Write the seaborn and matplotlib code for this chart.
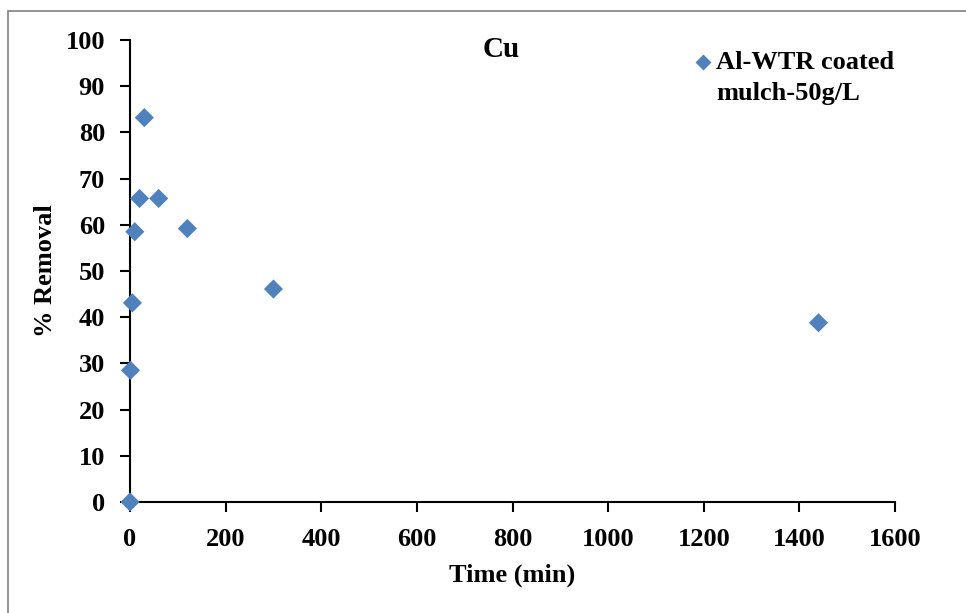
import matplotlib
matplotlib.use("Agg")
import matplotlib.pyplot as plt
import seaborn as sns
import pandas as pd
import numpy as np
from matplotlib.patches import Rectangle

time_min = [0, 1, 5, 10, 20, 30, 60, 120, 300, 1440]
removal_pct = [0, 28.5, 43.1, 58.5, 65.7, 83.2, 65.7, 59.2, 46.1, 38.8]
series_name = "Al-WTR coated\nmulch-50g/L"
x_ticks = [0, 200, 400, 600, 800, 1000, 1200, 1400, 1600]
y_ticks = [0, 10, 20, 30, 40, 50, 60, 70, 80, 90, 100]

sns.set_style("white")
plt.rcParams['font.family'] = ['Liberation Serif', 'DejaVu Serif']
plt.rcParams['font.weight'] = 'bold'
plt.rcParams['text.color'] = 'black'
plt.rcParams['axes.labelcolor'] = 'black'
plt.rcParams['xtick.color'] = 'black'
plt.rcParams['ytick.color'] = 'black'

FS = 19

df = pd.DataFrame({"Time": time_min, "Removal": removal_pct, "Series": series_name})

fig = plt.figure(figsize=(9.66, 6.13), dpi=100)
ax = fig.add_axes([130/966, 1-502/613, (895-130)/966, (502-40)/613])

sns.scatterplot(data=df, x="Time", y="Removal", hue="Series", palette=["#4F81BD"],
                marker="D", s=95, edgecolor="none", ax=ax, clip_on=False, zorder=5)

ax.set_xlim(0, 1600)
ax.set_ylim(0, 100)
ax.set_xticks(x_ticks)
ax.set_yticks(y_ticks)
ax.set_xticklabels([str(t) for t in x_ticks], fontsize=FS, fontweight='bold')
ax.set_yticklabels([str(t) for t in y_ticks], fontsize=FS, fontweight='bold')
ax.tick_params(axis='both', direction='out', length=7, width=1.5, color='black',
               labelcolor='black', left=True, bottom=True)
ax.tick_params(axis='x', pad=12)
ax.tick_params(axis='y', pad=11)
for s in ['top', 'right']:
    ax.spines[s].set_visible(False)
for s in ['left', 'bottom']:
    ax.spines[s].set_color('black')
    ax.spines[s].set_linewidth(1.5)

ax.set_xlabel("Time (min)", fontsize=FS, fontweight='bold', labelpad=9, color='black')
ax.set_ylabel("% Removal", fontsize=FS, fontweight='bold', labelpad=6, color='black')
ax.text(0.485, 1.008, "Cu", transform=ax.transAxes, ha='center', va='top',
        fontsize=21, fontweight='bold', color='black')

leg = ax.legend(loc='upper right', bbox_to_anchor=(1.013, 1.0), frameon=False,
                prop={'family': 'Liberation Serif', 'weight': 'bold', 'size': FS},
                handletextpad=0.0, markerscale=0.85, borderaxespad=0, handlelength=1.0)
for t in leg.get_texts():
    t.set_linespacing(1.48)
    t.set_color('black')
for h in leg.legend_handles:
    try:
        y = np.asarray(h.get_ydata(), dtype=float)
        h.set_ydata(y + 11)
    except AttributeError:
        offs = h.get_offsets()
        offs[:, 1] += 11
        h.set_offsets(offs)

fig.patches.append(Rectangle((8/966, -0.1), 1.1, 1 - 11/613 + 0.1, transform=fig.transFigure,
                             fill=False, edgecolor='#808080', linewidth=1.2))

fig.savefig("out.png", dpi=100)
